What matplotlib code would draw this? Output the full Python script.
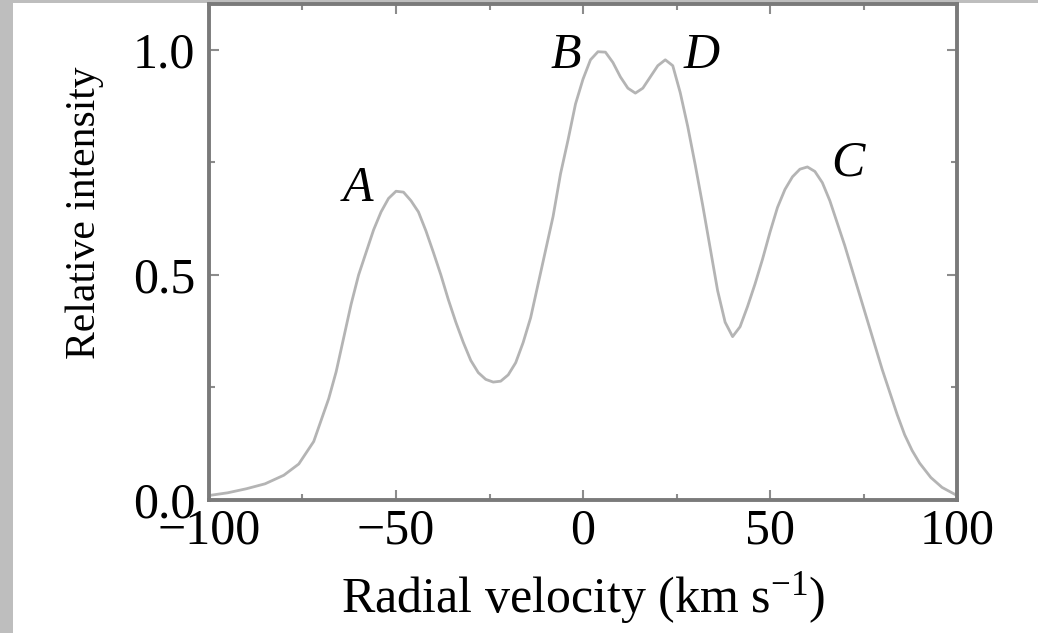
import matplotlib
matplotlib.use("Agg")
import matplotlib.pyplot as plt
from matplotlib.patches import Rectangle
from matplotlib.ticker import MultipleLocator

plt.rcParams['font.family'] = ['Liberation Serif', 'DejaVu Serif']
plt.rcParams['mathtext.fontset'] = 'custom'
plt.rcParams['mathtext.rm'] = 'Liberation Serif'
plt.rcParams['mathtext.it'] = 'Liberation Serif:italic'

# radial velocity (km/s) and relative intensity
velocity = [-100, -95, -90, -85, -80, -76, -72, -68, -66, -64, -62, -60, -58, -56,
            -54, -52, -50, -48, -46, -44, -42, -40, -38, -36, -34, -32, -30, -28,
            -26, -24, -22, -20, -18, -16, -14, -12, -10, -8, -6, -4, -2, 0, 2, 4,
            6, 8, 10, 12, 14, 16, 18, 20, 22, 24, 26, 28, 30, 32, 34, 36, 38, 40,
            42, 44, 46, 48, 50, 52, 54, 56, 58, 60, 62, 64, 66, 68, 70, 72, 74, 76,
            78, 80, 82, 84, 86, 88, 90, 93, 96, 100]
intensity = [0.010, 0.016, 0.025, 0.036, 0.055, 0.080, 0.130, 0.225, 0.285, 0.360,
             0.435, 0.500, 0.550, 0.600, 0.640, 0.670, 0.686, 0.684, 0.665, 0.640,
             0.598, 0.550, 0.500, 0.445, 0.395, 0.350, 0.310, 0.283, 0.268, 0.262,
             0.264, 0.278, 0.305, 0.350, 0.405, 0.480, 0.555, 0.630, 0.725, 0.800,
             0.880, 0.935, 0.978, 0.996, 0.995, 0.972, 0.940, 0.915, 0.904, 0.915,
             0.940, 0.965, 0.978, 0.965, 0.905, 0.830, 0.745, 0.655, 0.560, 0.465,
             0.395, 0.363, 0.385, 0.430, 0.480, 0.535, 0.595, 0.650, 0.690, 0.718,
             0.735, 0.740, 0.730, 0.705, 0.665, 0.615, 0.565, 0.510, 0.455, 0.400,
             0.345, 0.290, 0.240, 0.190, 0.145, 0.110, 0.082, 0.050, 0.028, 0.010]

# component labels
peak_names = ['A', 'B', 'D', 'C']
peak_v = [-60.2, -4.5, 31.8, 70.9]
peak_i = [0.691, 0.987, 0.987, 0.749]

fig = plt.figure(figsize=(10.38, 6.33), dpi=100)
fig.patch.set_facecolor('white')
# grey frame strips on the left and top
fig.patches.append(Rectangle((0, 0), 13 / 1038, 1, transform=fig.transFigure,
                             facecolor='#bebebe', edgecolor='none', zorder=-1))
fig.patches.append(Rectangle((0, 1 - 3 / 633), 1, 3 / 633, transform=fig.transFigure,
                             facecolor='#bebebe', edgecolor='none', zorder=-1))

ax = fig.add_axes([209 / 1038, 1 - 500 / 633, (957 - 209) / 1038, 496 / 633])
ax.plot(velocity, intensity, color='#b4b4b4', lw=2.0, solid_joinstyle='round')

for name, v, i in zip(peak_names, peak_v, peak_i):
    ax.text(v, i, name, fontsize=36, style='italic', ha='center', va='center')

ax.set_xlim(-100, 100)
ax.set_ylim(0, 1.102)
ax.xaxis.set_major_locator(MultipleLocator(50))
ax.xaxis.set_minor_locator(MultipleLocator(25))
ax.yaxis.set_major_locator(MultipleLocator(0.5))
ax.yaxis.set_minor_locator(MultipleLocator(0.25))

for s in ax.spines.values():
    s.set_color('#7a7a7a')
    s.set_linewidth(2.8)

ax.tick_params(which='both', direction='in', top=True, right=True,
               color='#8c8c8c', width=1.5, labelsize=36)
ax.tick_params(which='major', length=7)
ax.tick_params(which='minor', length=4)
ax.tick_params(axis='x', pad=6)
ax.tick_params(axis='y', pad=10)

ax.set_xlabel('Radial velocity (km s$^{-1}$)', fontsize=36, labelpad=11)
ax.set_ylabel('Relative intensity', fontsize=30)
ax.yaxis.set_label_coords(-0.14, 0.58)

fig.savefig('out.png', dpi=100)
